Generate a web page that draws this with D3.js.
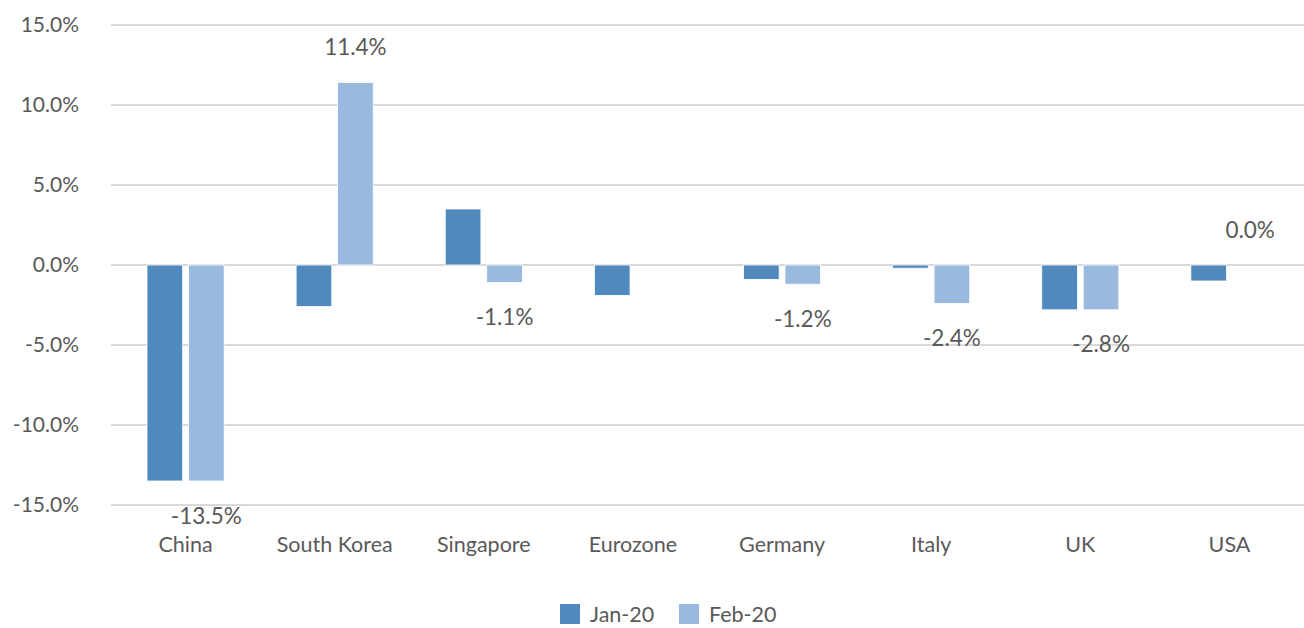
<!DOCTYPE html>
<html>
<head>
<meta charset="utf-8">
<script src="https://cdn.jsdelivr.net/npm/d3@7"></script>
<style>
  body { margin: 0; background: #fff; }
  svg text { font-family: Lato, "Open Sans", sans-serif; fill: #595959; }
</style>
</head>
<body>
<svg id="chart" width="1304" height="628"></svg>
<script>
// chart data
const categories = ["China", "South Korea", "Singapore", "Eurozone", "Germany", "Italy", "UK", "USA"];
const seriesNames = ["Jan-20", "Feb-20"];
const jan20 = [-13.5, -2.6, 3.5, -1.9, -0.9, -0.2, -2.8, -1.0];
const feb20 = [-13.5, 11.4, -1.1, null, -1.2, -2.4, -2.8, 0.0];
const yTicks = [-15, -10, -5, 0, 5, 10, 15];
const colors = ["#4f89bd", "#99b9df"];

const svg = d3.select("#chart");
const margin = {top: 25, right: 0, bottom: 123, left: 111};
const W = 1304, H = 628;

const x = d3.scaleBand().domain(categories).range([margin.left, W - margin.right]);
const xs = d3.scaleBand().domain(seriesNames).range([36, x.bandwidth() - 36]).paddingInner(0.14);
const y = d3.scaleLinear().domain([-15, 15]).range([H - margin.bottom, margin.top]);

// gridlines
svg.append("g").selectAll("line")
  .data(yTicks)
  .join("line")
  .attr("x1", margin.left).attr("x2", W - margin.right)
  .attr("y1", d => y(d)).attr("y2", d => y(d))
  .attr("stroke", "#d9d9d9").attr("stroke-width", 2);

// y axis labels
const yAxis = svg.append("g")
  .attr("transform", `translate(${margin.left},0)`)
  .call(d3.axisLeft(y).tickValues(yTicks).tickFormat(d => d.toFixed(1) + "%").tickSize(0).tickPadding(32));
yAxis.select(".domain").remove();
yAxis.selectAll("text").style("font-size", "21px").attr("fill", "#595959");

// x axis labels
const xAxis = svg.append("g")
  .attr("transform", `translate(0,${y(-15)})`)
  .call(d3.axisBottom(x).tickSize(0).tickPadding(32));
xAxis.select(".domain").remove();
xAxis.selectAll("text").style("font-size", "21.5px").attr("fill", "#595959");

const rows = categories.map((c, i) => ({cat: c, vals: [jan20[i], feb20[i]]}));

const groups = svg.append("g").selectAll("g")
  .data(rows)
  .join("g")
  .attr("transform", d => `translate(${x(d.cat)},0)`);

groups.selectAll("rect")
  .data(d => d.vals.map((v, j) => ({s: seriesNames[j], v, j})).filter(e => e.v !== null))
  .join("rect")
  .attr("x", d => xs(d.s))
  .attr("width", xs.bandwidth())
  .attr("y", d => y(Math.max(0, d.v)))
  .attr("height", d => Math.abs(y(d.v) - y(0)))
  .attr("fill", d => colors[d.j])
  .attr("stroke", "#fff").attr("stroke-width", 0.8);

// data labels, Feb-20 only
groups.selectAll(".lbl")
  .data(d => d.vals[1] === null ? [] : [d.vals[1]])
  .join("text")
  .attr("class", "lbl")
  .attr("x", xs("Feb-20") + xs.bandwidth() / 2)
  .attr("y", v => v >= 0 ? y(v) - 36 : y(v) + 34)
  .attr("text-anchor", "middle")
  .attr("dominant-baseline", "central")
  .style("font-size", "22.5px")
  .attr("fill", "#404040")
  .text(v => v.toFixed(1) + "%");

// legend
const legend = svg.append("g").attr("transform", "translate(560,604)");
const items = legend.selectAll("g")
  .data(seriesNames)
  .join("g")
  .attr("transform", (d, i) => `translate(${i * 119},0)`);
items.append("rect").attr("width", 20).attr("height", 20).attr("fill", (d, i) => colors[i]);
items.append("text").attr("x", 30).attr("y", 10)
  .attr("dominant-baseline", "central")
  .style("font-size", "21.5px")
  .text(d => d);
</script>
</body>
</html>
